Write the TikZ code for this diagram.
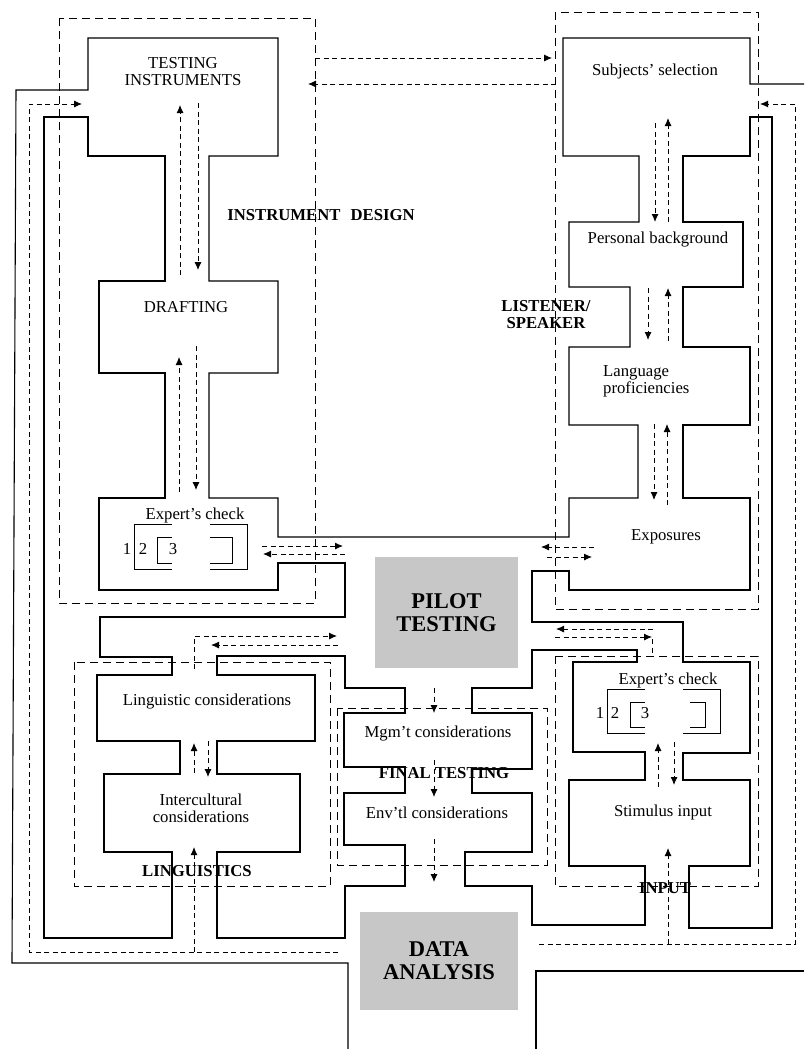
\documentclass[tikz,border=0pt]{standalone}
\usepackage{fontspec}
\setmainfont{Liberation Serif}
\usetikzlibrary{arrows.meta}
\definecolor{hubgray}{gray}{0.78}

\begin{document}
\begin{tikzpicture}[x=1pt,y=-1pt,
  wall/.style={line width=1.1pt},
  tick/.style={line width=0.9pt},
  zone/.style={line width=0.9pt,dash pattern=on 8pt off 5pt},
  trail/.style={line width=0.9pt,dash pattern=on 5pt off 3.5pt},
  flow/.style={trail,-{Latex[length=8pt,width=7pt]}},
  lbl/.style={font=\fontsize{16.7}{17}\selectfont,align=center,inner sep=1pt},
  tag/.style={font=\fontsize{16.7}{17}\selectfont\bfseries,align=center,inner sep=1pt},
  hub/.style={fill=hubgray,font=\fontsize{22.5}{23}\selectfont\bfseries,align=center,inner sep=0pt}]
\useasboundingbox (0,0) rectangle (804,1049);

\node[hub,minimum width=143pt,minimum height=111pt] (pilot) at (446.5,612.5) {PILOT\\TESTING};
\node[hub,minimum width=158pt,minimum height=98pt] (data) at (439,961) {DATA\\ANALYSIS};

\draw[zone] (59,18) rectangle (315,603);
\draw[zone] (555,12) rectangle (758,609);
\draw[zone] (74,662) rectangle (330,886);
\draw[zone] (337,708) rectangle (547,865);
\draw[zone] (555,656) rectangle (758,886);

\draw[wall] (348,1049)--(348,963)--(12,963)--(16,90)--(88,90)--(88,38)--(278,38)--(278,156)--(209,156)
  --(209,281)--(278,281)--(278,373)--(209,373)--(209,498)--(278,498)--(278,537)--(569,537)--(569,498)
  --(638,498)--(638,425)--(569,425)--(569,347)--(630,347)--(630,287)--(569,287)--(569,222)--(639,222)
  --(639,156)--(563,156)--(563,38)--(750,38)--(750,84)--(804,84);
\draw[wall] (88,117)--(88,156)--(165,156)--(165,281)--(99,281)--(99,373)--(165,373)--(165,498)--(99,498)
  --(99,590)--(278,590)--(278,563)--(345,563)--(345,617)--(100,617)--(100,657)--(172,657)--(172,675)
  --(97,675)--(97,741)--(180,741)--(180,774)--(104,774)--(104,852)--(172,852)--(172,938)--(44,938)
  --(44,117)--cycle;
\draw[wall] (772,117)--(750,117)--(750,156)--(683,156)--(683,222)--(743,222)--(743,287)--(683,287)
  --(683,347)--(750,347)--(750,425)--(683,425)--(683,498)--(750,498)--(750,590)--(569,590)--(569,571)
  --(532,571)--(532,622)--(683,622)--(683,662)--(750,662)--(750,753)--(683,753)--(683,780)--(750,780)
  --(750,866)--(689,866)--(689,928)--(772,928)--cycle;
\draw[wall] (217,675)--(217,656)--(345,656)--(345,688)--(405,688)--(405,713)--(344,713)--(344,767)
  --(405,767)--(405,793)--(344,793)--(344,845)--(405,845)--(405,886)--(345,886)--(345,938)--(217,938)
  --(217,852)--(300,852)--(300,774)--(217,774)--(217,741)--(315,741)--(315,675)--cycle;
\draw[wall] (472,713)--(472,688)--(532,688)--(532,650)--(637,650)--(637,662)--(573,662)--(573,752)
  --(645,752)--(645,780)--(569,780)--(569,866)--(645,866)--(645,925)--(532,925)--(532,886)--(465,886)
  --(465,852)--(532,852)--(532,793)--(472,793)--(472,769)--(532,769)--(532,713)--cycle;
\draw[wall] (536,1049)--(536,971)--(804,971);

\draw[tick] (172,524)--(134,524)--(134,569)--(172,569) (210,524)--(247,524)--(247,569)--(210,569);
\draw[tick] (172,537)--(157,537)--(157,563)--(172,563) (210,537)--(232,537)--(232,563)--(210,563);
\draw[tick] (645,689)--(607,689)--(607,733)--(645,733) (683,689)--(720,689)--(720,733)--(683,733);
\draw[tick] (645,702)--(630,702)--(630,727)--(645,727) (690,702)--(705,702)--(705,727)--(690,727);

\draw[flow] (338,952)--(29,952)--(29,104)--(82,104);
\draw[flow] (194,952)--(194,847);
\draw[flow] (539,944)--(795,944)--(795,104)--(760,104);
\draw[flow] (668,944)--(668,848);
\draw[flow] (315,58)--(552,58);
\draw[flow] (556,84)--(308,84);
\draw[flow] (180,275)--(180,105);
\draw[flow] (198,103)--(198,270);
\draw[flow] (179,492)--(179,357);
\draw[flow] (196,346)--(196,490);
\draw[flow] (262,546)--(343,546);
\draw[flow] (345,554)--(263,554);
\draw[flow] (594,547)--(541,547);
\draw[flow] (547,557)--(592,557);
\draw[flow] (194,669)--(194,636)--(337,636);
\draw[flow] (338,645)--(211,645);
\draw[flow] (653,629)--(556,629);
\draw[flow] (555,637)--(652,637);
\draw[trail] (652,639)--(652,656);
\draw[flow] (655,123)--(655,222);
\draw[flow] (668,222)--(668,118);
\draw[flow] (648,288)--(648,340);
\draw[flow] (668,341)--(668,288);
\draw[flow] (654,424)--(654,500);
\draw[flow] (667,505)--(667,424);
\draw[flow] (194,773)--(194,743);
\draw[flow] (208,741)--(208,777);
\draw[flow] (658,787)--(658,743);
\draw[flow] (674,742)--(674,785);
\foreach \ya/\yb in {688/713,760/797,839/882}
  \draw[flow] (434,\ya)--(434,\yb);

\node[lbl] (testing) at (183,72) {TESTING\\INSTRUMENTS};
\node[lbl] (drafting) at (186,307) {DRAFTING};
\node[lbl] (expertl) at (195,515) {Expert's check};
\node[lbl] (onel) at (127,549) {1};
\node[lbl] (twol) at (143,549) {2};
\node[lbl] (threel) at (173,549) {3};
\node[tag] (design) at (321,215) {INSTRUMENT\hspace{0.6em}DESIGN};
\node[lbl] (subjects) at (655,71) {Subjects' selection};
\node[lbl] (personal) at (658,240) {Personal background};
\node[tag] (listener) at (546,315) {LISTENER/\\SPEAKER};
\node[lbl,align=left,anchor=west] (language) at (602,381) {Language\\proficiencies};
\node[lbl] (exposures) at (666,537) {Exposures};
\node[lbl] (linguistic) at (207,701) {Linguistic considerations};
\node[lbl] (intercult) at (201,808) {Intercultural\\considerations};
\node[tag] (linguistics) at (197,871) {LINGUISTICS};
\node[lbl] (mgmt) at (438,733) {Mgm't considerations};
\node[tag] (final) at (444,773) {FINAL TESTING};
\node[lbl] (envtl) at (437,813) {Env'tl considerations};
\node[lbl] (expertr) at (668,680) {Expert's check};
\node[lbl] (oner) at (600,713) {1};
\node[lbl] (twor) at (615,713) {2};
\node[lbl] (threer) at (645,713) {3};
\node[lbl] (stimulus) at (663,812) {Stimulus input};
\node[tag] (input) at (665,888) {INPUT};
\end{tikzpicture}
\end{document}
